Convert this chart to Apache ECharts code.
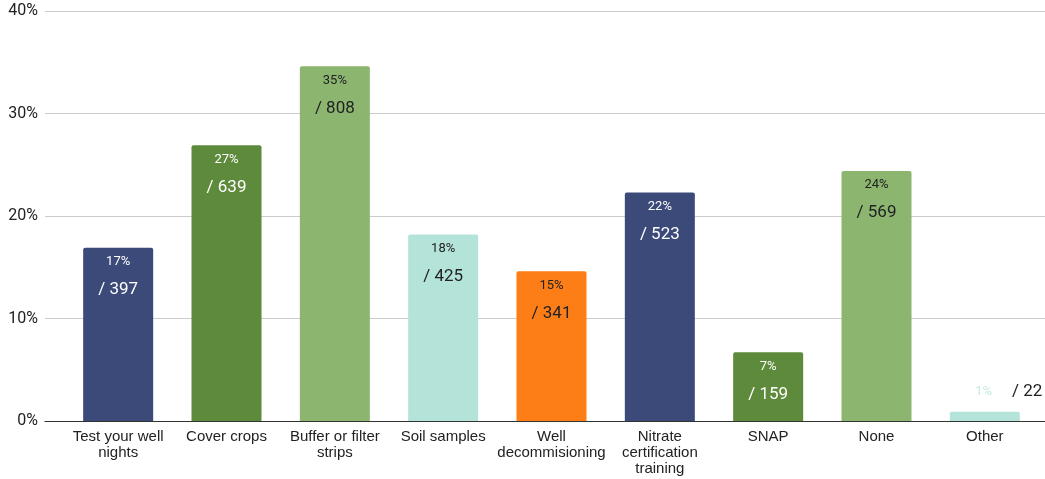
<!DOCTYPE html>
<html><head><meta charset="utf-8">
<script src="https://cdn.jsdelivr.net/npm/echarts@6/dist/echarts.min.js"></script>
<style>html,body{margin:0;padding:0;background:#fff}#c{width:1045px;height:479px}</style>
</head><body><div id="c"></div>
<script>
const categories = ['Test your well\nnights','Cover crops','Buffer or filter\nstrips','Soil samples','Well\ndecommisioning','Nitrate\ncertification\ntraining','SNAP','None','Other'];
const percents = [16.9, 26.9, 34.6, 18.2, 14.6, 22.3, 6.7, 24.4, 0.9];
const counts = [397, 639, 808, 425, 341, 523, 159, 569, 22];
const yTicks = [0, 10, 20, 30, 40];

const palette = ['#3b4a78','#5e8a3b','#8cb570','#b4e3d9','#fd7e17','#3b4a78','#5e8a3b','#8cb570','#b4e3d9'];
const textCol = ['#fff','#fff','#222','#222','#222','#fff','#fff','#222','#222'];

const chart = echarts.init(document.getElementById('c'));
const data = percents.map((v, i) => {
  const item = { value: v, itemStyle: { color: palette[i] } };
  if (v < 3) {
    item.label = {
      position: 'top', distance: 12, offset: [24, 0],
      formatter: '{p|' + Math.round(v) + '%}      {c|/ ' + counts[i] + '}',
      rich: {
        p: { fontSize: 13, color: '#c4ebe2', fontFamily: 'Roboto' },
        c: { fontSize: 17, color: '#222', fontFamily: 'Roboto' }
      }
    };
  } else {
    item.label = {
      position: 'insideTop', distance: 4,
      formatter: '{p|' + Math.round(v) + '%}\n{c|/ ' + counts[i] + '}',
      rich: {
        p: { fontSize: 13, lineHeight: 20, color: textCol[i], fontFamily: 'Roboto' },
        c: { fontSize: 17, lineHeight: 36, color: textCol[i], fontFamily: 'Roboto' }
      }
    };
  }
  return item;
});

chart.setOption({
  animation: false,
  grid: [
    { left: 64, right: 6, top: 11, bottom: 58, outerBoundsMode: 'none', containLabel: false },
    { left: 45, right: 0, top: 11, bottom: 58, outerBoundsMode: 'none', containLabel: false }
  ],
  xAxis: [
    { type: 'category', gridIndex: 0, data: categories, boundaryGap: true,
      axisLine: { show: false }, axisTick: { show: false },
      axisLabel: { color: '#222', fontSize: 15, fontFamily: 'Liberation Sans', lineHeight: 16, margin: 8, interval: 0 } },
    { type: 'value', gridIndex: 1, min: 0, max: 1,
      axisLine: { show: true, onZero: false, lineStyle: { color: '#333', width: 1 } },
      axisTick: { show: false }, axisLabel: { show: false }, splitLine: { show: false } }
  ],
  yAxis: [
    { type: 'value', gridIndex: 0, min: yTicks[0], max: yTicks[yTicks.length-1], interval: 10,
      axisLine: { show: false }, axisTick: { show: false }, axisLabel: { show: false }, splitLine: { show: false } },
    { type: 'value', gridIndex: 1, min: yTicks[0], max: yTicks[yTicks.length-1], interval: 10,
      axisLine: { show: false }, axisTick: { show: false },
      axisLabel: { color: '#222', fontSize: 16, fontFamily: 'Roboto', margin: 7, formatter: '{value}%' },
      splitLine: { lineStyle: { color: '#cccccc', width: 1 } } }
  ],
  series: [{
    type: 'bar', xAxisIndex: 0, yAxisIndex: 0, data: data,
    barWidth: 70, z: 3,
    itemStyle: { borderRadius: [2, 2, 0, 0] },
    label: { show: true }
  }]
});
</script></body></html>
